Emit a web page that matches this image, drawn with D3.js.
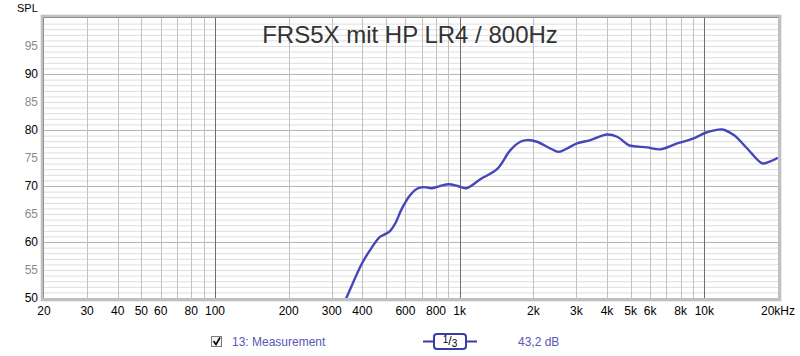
<!DOCTYPE html>
<html lang="en">
<head>
<meta charset="UTF-8">
<title>FRS5X mit HP LR4 / 800Hz</title>
<script src="https://cdn.jsdelivr.net/npm/d3@7"></script>
<style>
  body { margin: 0; background: #fff; }
  svg text { font-family: "Liberation Sans", Arial, sans-serif; }
</style>
</head>
<body>
<svg id="chart" width="800" height="356"></svg>
<script>
const freqs = [330, 344, 399, 431, 473, 496, 520, 545, 581, 628, 669, 712, 771, 833, 901, 975,
               1065, 1214, 1421, 1611, 1770, 1885, 2070, 2347, 2538, 2746, 3018, 3422, 4004, 4399,
               4908, 5145, 5834, 6614, 7740, 8917, 10266, 11826, 13190, 14964, 17232, 18340, 19960];
const spl   = [48.3, 50.0, 56.2, 58.6, 60.95, 61.4, 62.0, 63.3, 66.0, 68.4, 69.5, 69.8, 69.6, 70.0, 70.3, 70.05,
               69.6, 71.2, 73.0, 76.4, 77.9, 78.2, 77.9, 76.7, 76.1, 76.7, 77.6, 78.2, 79.2, 78.8,
               77.3, 77.1, 76.9, 76.55, 77.6, 78.4, 79.6, 80.1, 79.1, 76.7, 74.05, 74.3, 75.05];

const xTickValues = [20, 30, 40, 50, 60, 80, 100, 200, 300, 400, 600, 800, 1000,
                     2000, 3000, 4000, 5000, 6000, 8000, 10000, 20000];
const xTickLabels = ["20", "30", "40", "50", "60", "80", "100", "200", "300", "400", "600", "800", "1k",
                     "2k", "3k", "4k", "5k", "6k", "8k", "10k", "20kHz"];
const yTickValues = [50, 55, 60, 65, 70, 75, 80, 85, 90, 95];

const title = "FRS5X mit HP LR4 / 800Hz";
const legendName = "13: Measurement";
const legendLevel = "43,2 dB";

const pLeft = 44, pRight = 778, pTop = 18, pBottom = 298;
const curveColor = "#4646bb";

const svg = d3.select("#chart");
const x = d3.scaleLog().domain([20, 20000]).range([pLeft, pRight]);
const y = d3.scaleLinear().domain([50, 100]).range([pBottom, pTop]);

// frame with bevel look
svg.append("rect").attr("x", pLeft - 4).attr("y", pTop - 4)
    .attr("width", pRight - pLeft + 8).attr("height", pBottom - pTop + 8).attr("fill", "#ececec");
svg.append("rect").attr("x", pLeft - 3).attr("y", pTop - 3)
    .attr("width", pRight - pLeft + 6).attr("height", pBottom - pTop + 6).attr("fill", "#c0c0c0");
svg.append("rect").attr("x", pLeft).attr("y", pTop)
    .attr("width", pRight - pLeft).attr("height", pBottom - pTop).attr("fill", "#fff");

// horizontal grid, 1 dB steps
const dbLines = d3.range(51, 100);
svg.append("g").selectAll("line").data(dbLines).join("line")
    .attr("x1", pLeft).attr("x2", pRight)
    .attr("y1", d => y(d) + 0.5).attr("y2", d => y(d) + 0.5)
    .attr("stroke", d => d % 10 === 0 ? "#b4b4b4" : "#dedede")
    .attr("stroke-width", 1);

// vertical grid
const fLines = [];
[10, 100, 1000, 10000].forEach(dec => {
  for (let m = 1; m <= 9; m++) {
    const f = dec * m;
    if (f > 20 && f < 20000) fLines.push(f);
  }
});
svg.append("g").selectAll("line").data(fLines).join("line")
    .attr("x1", d => Math.round(x(d)) + 0.5).attr("x2", d => Math.round(x(d)) + 0.5)
    .attr("y1", pTop).attr("y2", pBottom)
    .attr("stroke", d => [100, 1000, 10000].includes(d) ? "#6e6e6e" : "#c2c2c2")
    .attr("stroke-width", 1);

// inner edge lines
svg.append("line").attr("x1", pLeft - 0.5).attr("x2", pRight).attr("y1", pTop - 0.5).attr("y2", pTop - 0.5)
    .attr("stroke", "#909090");
svg.append("line").attr("x1", pLeft - 0.5).attr("x2", pLeft - 0.5).attr("y1", pTop - 0.5).attr("y2", pBottom)
    .attr("stroke", "#909090");

// title
svg.append("text").attr("x", 410).attr("y", 43)
    .attr("text-anchor", "middle").attr("font-size", 24).attr("fill", "#333")
    .text(title);

// curve
svg.append("clipPath").attr("id", "plotclip")
  .append("rect").attr("x", pLeft).attr("y", pTop)
    .attr("width", pRight - pLeft).attr("height", pBottom - pTop);

const line = d3.line()
    .x((d, i) => x(freqs[i]))
    .y((d, i) => y(spl[i]))
    .curve(d3.curveCatmullRom.alpha(0.5));

svg.append("path")
    .datum(freqs)
    .attr("clip-path", "url(#plotclip)")
    .attr("d", line)
    .attr("fill", "none")
    .attr("stroke", curveColor)
    .attr("stroke-width", 2.4)
    .attr("stroke-linejoin", "round");

// y axis labels
svg.append("text").attr("x", 17).attr("y", 12).attr("font-size", 11).attr("fill", "#000").text("SPL");
svg.append("g").selectAll("text").data(yTickValues).join("text")
    .attr("x", 38).attr("y", d => y(d) + 4)
    .attr("text-anchor", "end").attr("font-size", 12)
    .attr("fill", d => d % 10 === 0 ? "#000" : "#8c8c8c")
    .text(d => d);

// x axis labels (last one sits right-aligned against the edge)
const lastTick = xTickValues.length - 1;
svg.append("g").selectAll("text").data(xTickValues).join("text")
    .attr("x", (d, i) => i === lastTick ? x(d) + 17 : x(d))
    .attr("y", 315)
    .attr("text-anchor", (d, i) => i === lastTick ? "end" : "middle")
    .attr("font-size", 12).attr("fill", "#000")
    .text((d, i) => xTickLabels[i]);

// legend
const lg = svg.append("g");
lg.append("rect").attr("x", 211.5).attr("y", 336.5).attr("width", 10).attr("height", 10)
    .attr("fill", "#f4f4f4").attr("stroke", "#7a7a7a");
lg.append("path").attr("d", "M213.5,341 L216,344.5 L220,337.5")
    .attr("fill", "none").attr("stroke", "#000").attr("stroke-width", 1.6);
lg.append("text").attr("x", 232).attr("y", 345.5).attr("font-size", 12)
    .attr("fill", "#5858b4").text(legendName);

lg.append("line").attr("x1", 423).attr("x2", 477).attr("y1", 341.5).attr("y2", 341.5)
    .attr("stroke", "#3c3ca6").attr("stroke-width", 2);
lg.append("rect").attr("x", 434).attr("y", 334).attr("width", 32).attr("height", 15).attr("rx", 3)
    .attr("fill", "#fff").attr("stroke", "#3c3ca6").attr("stroke-width", 2);
const frac = lg.append("text").attr("x", 450).attr("y", 345).attr("text-anchor", "middle")
    .attr("font-size", 12).attr("fill", "#000");
frac.append("tspan").attr("font-size", 10).attr("dy", -2).text("1");
frac.append("tspan").attr("dy", 2).text("/");
frac.append("tspan").attr("font-size", 10).attr("dy", 2).text("3");

lg.append("text").attr("x", 518).attr("y", 345.5).attr("font-size", 12)
    .attr("fill", "#5858b4").text(legendLevel);
</script>
</body>
</html>
